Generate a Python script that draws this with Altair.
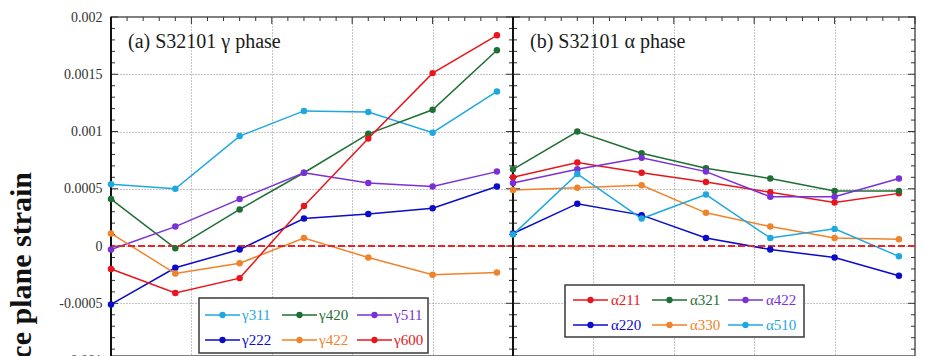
import altair as alt
import numpy as np
import pandas as pd

# Applied stress steps (MPa), identical for both phases
stress = [0, 80, 160, 240, 320, 400, 480]

# Austenite (gamma) lattice plane strains
gamma_names = ["γ311", "γ420", "γ511", "γ222", "γ422", "γ600"]
g311 = [0.00054, 0.00050, 0.00096, 0.00118, 0.00117, 0.00099, 0.00135]
g420 = [0.00041, -0.00002, 0.00032, 0.00064, 0.00098, 0.00119, 0.00171]
g511 = [-0.00003, 0.00017, 0.00041, 0.00064, 0.00055, 0.00052, 0.00065]
g222 = [-0.00051, -0.00019, -0.00003, 0.00024, 0.00028, 0.00033, 0.00052]
g422 = [0.00011, -0.00024, -0.00015, 0.00007, -0.00010, -0.00025, -0.00023]
g600 = [-0.00020, -0.00041, -0.00028, 0.00035, 0.00094, 0.00151, 0.00184]

# Ferrite (alpha) lattice plane strains
alpha_names = ["α211", "α321", "α422", "α220", "α330", "α510"]
a211 = [0.00060, 0.00073, 0.00064, 0.00056, 0.00047, 0.00038, 0.00046]
a321 = [0.00067, 0.00100, 0.00081, 0.00068, 0.00059, 0.00048, 0.00048]
a422 = [0.00055, 0.00067, 0.00077, 0.00065, 0.00043, 0.00043, 0.00059]
a220 = [0.00011, 0.00037, 0.00027, 0.00007, -0.00003, -0.00010, -0.00026]
a330 = [0.00049, 0.00051, 0.00053, 0.00029, 0.00017, 0.00007, 0.00006]
a510 = [0.00010, 0.00063, 0.00024, 0.00045, 0.00007, 0.00015, -0.00009]

gamma_colors = ["#1ea8e0", "#1f6f35", "#7b2fd8", "#0b0bcb", "#f0822a", "#e8161c"]
alpha_colors = ["#e8161c", "#1f6f35", "#7b2fd8", "#0b0bcb", "#f0822a", "#1ea8e0"]

panel_titles = ["(a) S32101 γ phase", "(b) S32101 α phase"]
y_label_values = [-0.0005, 0, 0.0005, 0.001, 0.0015, 0.002]

W, H = 804, 339          # plot area: two panels side by side
PANEL = 500              # stress span of one panel
SERIF = "Liberation Serif"

rows = []
for panel, names, series in (
    ("a", gamma_names, [g311, g420, g511, g222, g422, g600]),
    ("b", alpha_names, [a211, a321, a422, a220, a330, a510]),
):
    for name, vals in zip(names, series):
        for s, v in zip(stress, vals):
            rows.append({"panel": panel, "series": name, "stress": s, "strain": v})
data = pd.DataFrame(rows)

all_names = gamma_names + alpha_names
all_colors = gamma_colors + alpha_colors
color = alt.Color("series:N", scale=alt.Scale(domain=all_names, range=all_colors), legend=None)

x_scale = alt.Scale(domain=[0, 2 * PANEL], nice=False, zero=False)
y_scale = alt.Scale(domain=[-0.00096, 0.002], nice=False, zero=False)

x_enc = alt.X(
    "xpos:Q", scale=x_scale,
    axis=alt.Axis(values=[100, 200, 300, 400, 600, 700, 800, 900], grid=True,
                  gridDash=[1, 2], gridColor="#8c8c8c", gridWidth=1,
                  labels=False, ticks=False, domain=False, title=None),
)
y_enc = alt.Y(
    "strain:Q", scale=y_scale,
    axis=alt.Axis(values=y_label_values, grid=True, gridDash=[1, 2], gridColor="#8c8c8c",
                  gridWidth=1, ticks=False, tickSize=0, domain=False, title=None,
                  labelExpr="'' + datum.value", labelPadding=9, labelFlush=False,
                  labelOverlap=False, labelBound=False),
)

base = alt.Chart(data).transform_calculate(
    xpos=f"datum.stress + (datum.panel === 'b' ? {PANEL} : 0)"
)
lines = base.mark_line(strokeWidth=1.5).encode(x=x_enc, y=y_enc, color=color, detail="series:N")
points = base.mark_circle(size=42, opacity=1).encode(
    x="xpos:Q", y="strain:Q", color=color
)

# zero-strain reference line across both panels
zero = alt.Chart(pd.DataFrame({"strain": [0]})).mark_rule(
    color="#e8262a", strokeWidth=2, strokeDash=[7, 3]
).encode(y="strain:Q")

# black left spine and panel divider
spines = alt.Chart(pd.DataFrame({"xpos": [0, PANEL]})).mark_rule(
    color="#111", strokeWidth=2
).encode(x="xpos:Q", y=alt.value(0), y2=alt.value(H))

# inward tick marks on every edge
ytick = pd.DataFrame({"strain": np.round(np.arange(-9, 21) * 0.0001, 5)})
ytick["major"] = (np.round(ytick["strain"] / 0.0001).astype(int) % 5) == 0
xtick = pd.DataFrame({"xpos": np.arange(0, 2 * PANEL + 1, 20)})
xtick["major"] = (xtick["xpos"] % 100) == 0

tick_layers = []
for is_major, L in ((True, 7), (False, 4)):
    yt = alt.Chart(ytick[ytick["major"] == is_major])
    xt = alt.Chart(xtick[xtick["major"] == is_major])
    for x0, x1 in ((0, L), (W / 2 - L, W / 2 + L), (W - L, W)):
        tick_layers.append(
            yt.mark_rule(color="#333", strokeWidth=1).encode(
                y="strain:Q", x=alt.value(x0), x2=alt.value(x1)
            )
        )
    tick_layers.append(
        xt.mark_rule(color="#333", strokeWidth=1).encode(
            x="xpos:Q", y=alt.value(0), y2=alt.value(L)
        )
    )

# in-panel legends: three columns by two rows each
leg_rows = []
legend_layout = [
    # names, box (x0, y0, x1, y1), first row y, column line starts, label offset
    (gamma_names, (88, 281, 317, 336), 298, [94, 171, 246], 37),
    (alpha_names, (454, 268, 693, 320), 283, [462, 541, 617], 38),
]
boxes = []
for names, box, row_y, col_x, lab_off in legend_layout:
    boxes.append({"bx0": box[0], "by0": box[1], "bx1": box[2], "by1": box[3]})
    for i, name in enumerate(names):
        r, c = divmod(i, 3)
        x0 = col_x[c]
        leg_rows.append({
            "series": name, "lx0": x0, "lx1": x0 + 35, "lxm": x0 + 17.5,
            "ltx": x0 + lab_off, "ly": row_y + 25 * r,
        })
leg = pd.DataFrame(leg_rows)
boxes = pd.DataFrame(boxes)

px = lambda f: alt.X(f, scale=None)
py = lambda f: alt.Y(f, scale=None)

legend_box = alt.Chart(boxes).mark_rect(
    fill="white", stroke="#3a3a3a", strokeWidth=1.5
).encode(x=px("bx0:Q"), x2="bx1:Q", y=py("by0:Q"), y2="by1:Q")
legend_line = alt.Chart(leg).mark_rule(strokeWidth=1.5).encode(
    x=px("lx0:Q"), x2="lx1:Q", y=py("ly:Q"), color=color
)
legend_dot = alt.Chart(leg).mark_circle(size=40, opacity=1).encode(
    x=px("lxm:Q"), y=py("ly:Q"), color=color
)
legend_text = alt.Chart(leg).mark_text(
    align="left", baseline="middle", font=SERIF, fontSize=15
).encode(x=px("ltx:Q"), y=py("ly:Q"), text="series:N", color=color)

# panel captions
caps = pd.DataFrame({"label": panel_titles, "cx": [17, 419], "cy": [31, 31]})
captions = alt.Chart(caps).mark_text(
    align="left", baseline="alphabetic", font=SERIF, fontSize=20, color="#1a1a1a"
).encode(x=px("cx:Q"), y=py("cy:Q"), text="label:N")

# rotated y title
y_title = alt.Chart(pd.DataFrame({"t": ["Lattice plane strain"]})).mark_text(
    angle=270, align="right", baseline="alphabetic", font=SERIF, fontSize=30,
    fontWeight="bold", color="#111"
).encode(x=alt.value(-80), y=alt.value(155), text="t:N")

# lowest tick label, partly below the visible area
low_label = alt.Chart(pd.DataFrame({"t": ["-0.001"]})).mark_text(
    align="right", baseline="middle", font=SERIF, fontSize=14, color="#333"
).encode(x=alt.value(-9), y=alt.value(344), text="t:N")

chart = alt.layer(
    lines, *tick_layers, zero, spines, points,
    legend_box, legend_line, legend_dot, legend_text,
    captions, y_title, low_label,
).properties(
    width=W, height=H,
    padding={"left": 111, "top": 17, "right": 11, "bottom": 0},
    autosize=alt.AutoSizeParams(type="none"),
    background="white",
).configure_view(
    stroke="#555", strokeWidth=1.5
).configure_axis(
    labelFont=SERIF, labelFontSize=14, labelColor="#333"
)

chart.save("out.html", embed_options={"renderer": "svg", "actions": False})
